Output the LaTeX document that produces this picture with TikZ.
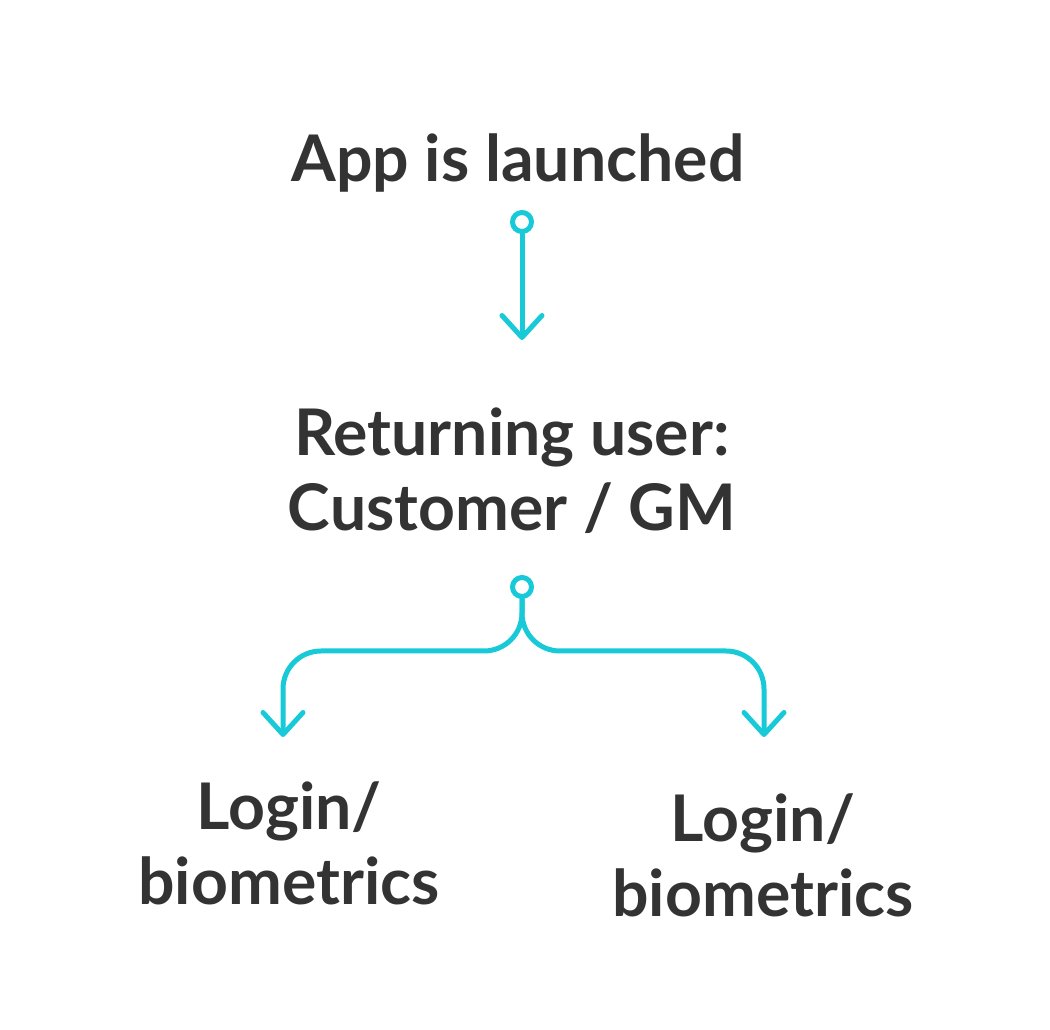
\documentclass[tikz,border=0pt]{standalone}
\usepackage{fontspec}
\setmainfont{Lato}
\usepackage{tikz}
\usetikzlibrary{arrows.meta, positioning}
\definecolor{mytext}{RGB}{51,51,51}
\definecolor{mycyan}{RGB}{24,202,216}
\tikzset{
  label/.style={font=\fontsize{18.3}{21.5}\selectfont\bfseries, text=mytext,
    align=center, inner sep=0pt},
  startdot/.style={circle, draw=mycyan, fill=white, line width=0.05cm,
    minimum size=0.19cm, inner sep=0pt},
  arrow/.style={-{Straight Barb[length=0.22cm, width=0.4cm, round]},
    line width=0.05cm, color=mycyan, line cap=round, line join=round}
}
\begin{document}
\begin{tikzpicture}
  \useasboundingbox[fill=white] (0,0) rectangle (10.5,10.3);
  \node[label, anchor=base] (app) at (5.18,8.48) {App is launched};
  \node[startdot] (dot1) at (5.22,8.08) {};
  \coordinate (tip1) at (5.22,6.90);
  \node[label, anchor=base] (ret) at (5.12,4.99) {Returning user:\\Customer / GM};
  \node[startdot] (dot2) at (5.22,4.43) {};
  \coordinate (split) at (5.22,3.79);
  \coordinate (tipl) at (2.83,2.93);
  \coordinate (tipr) at (7.64,2.93);
  \node[label, anchor=base] (loginl) at (2.89,1.25) {Login/\\biometrics};
  \node[label, anchor=base] (loginr) at (7.63,1.13) {Login/\\biometrics};

  \draw[arrow] (dot1) -- (tip1);
  \draw[arrow, rounded corners=0.38cm] (dot2) -- (split) -| (tipl);
  \draw[arrow, rounded corners=0.38cm] (dot2) -- (split) -| (tipr);
\end{tikzpicture}
\end{document}
